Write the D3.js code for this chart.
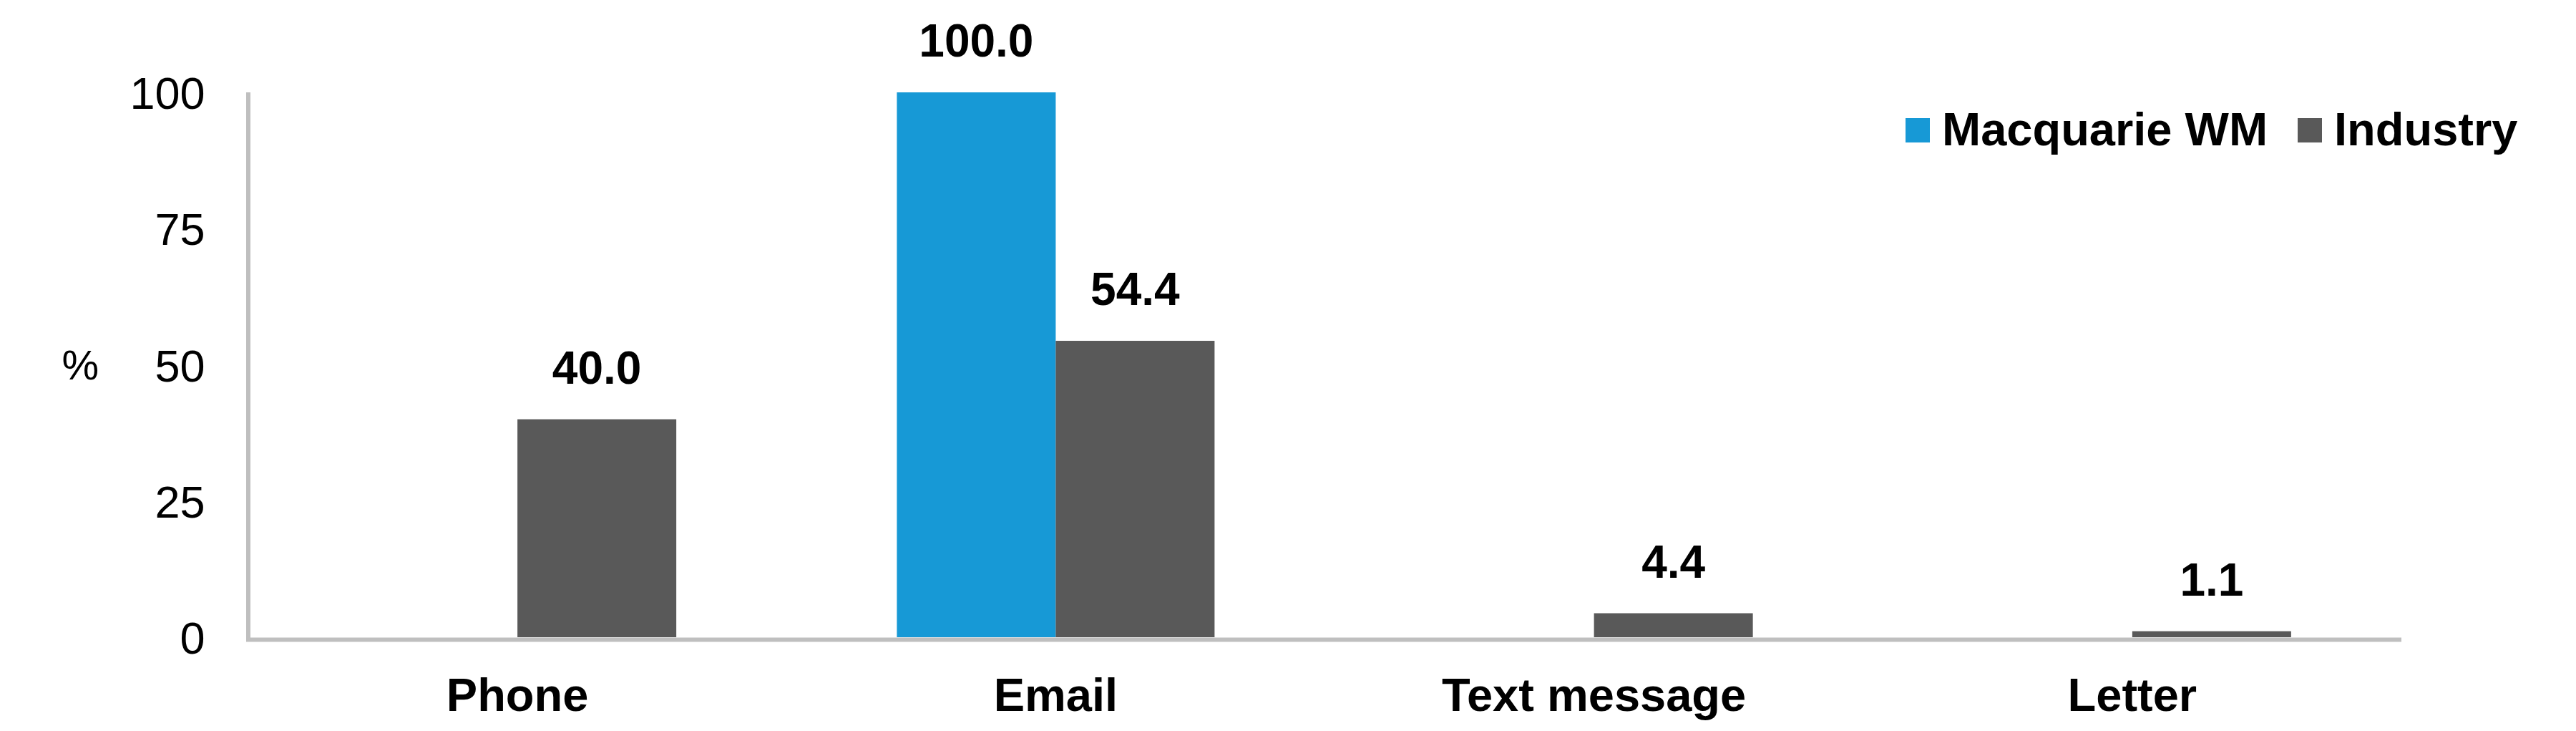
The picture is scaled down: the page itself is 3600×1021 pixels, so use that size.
<!DOCTYPE html>
<html>
<head>
<meta charset="utf-8">
<script src="https://cdn.jsdelivr.net/npm/d3@7"></script>
<style>
  html, body { margin: 0; padding: 0; background: #ffffff; }
  svg { display: block; }
  text { font-family: "Liberation Sans", Arial, Helvetica, sans-serif; fill: #000; }
</style>
</head>
<body>
<svg id="chart" width="3600" height="1021"></svg>
<script>
// ---- data ----
const categories = ["Phone", "Email", "Text message", "Letter"];
const seriesNames = ["Macquarie WM", "Industry"];
const macquarieValues = [null, 100.0, null, null];
const industryValues = [40.0, 54.4, 4.4, 1.1];
const yTicks = [0, 25, 50, 75, 100];
const yAxisTitle = "%";
const seriesColors = ["#1799D6", "#595959"];

// ---- layout ----
const W = 3600, H = 1021;
const plot = { left: 347, right: 3356, top: 129, bottom: 890 };

const svg = d3.select("#chart");

const x0 = d3.scaleBand().domain(categories).range([plot.left, plot.right]).paddingInner(0).paddingOuter(0);
const groupFrac = 444 / 752.25;
const x1 = d3.scaleBand().domain(seriesNames)
  .range([0, x0.bandwidth() * groupFrac]).padding(0);
const groupOffset = (x0.bandwidth() - x0.bandwidth() * groupFrac) / 2;

const y = d3.scaleLinear().domain([0, 100]).range([plot.bottom, plot.top]);

const series = [
  { name: seriesNames[0], values: macquarieValues, color: seriesColors[0] },
  { name: seriesNames[1], values: industryValues, color: seriesColors[1] }
];

// bars
const barData = [];
series.forEach(s => {
  s.values.forEach((v, i) => {
    if (v !== null && v !== undefined) barData.push({ cat: categories[i], series: s.name, value: v, color: s.color });
  });
});

svg.append("g").selectAll("rect").data(barData).join("rect")
  .attr("x", d => x0(d.cat) + groupOffset + x1(d.series))
  .attr("y", d => y(d.value))
  .attr("width", x1.bandwidth())
  .attr("height", d => y(0) - y(d.value))
  .attr("fill", d => d.color);

// data labels
svg.append("g").selectAll("text").data(barData).join("text")
  .attr("x", d => x0(d.cat) + groupOffset + x1(d.series) + x1.bandwidth() / 2)
  .attr("y", d => y(d.value) - 50)
  .attr("text-anchor", "middle")
  .style("font-size", "64px")
  .style("font-weight", "bold")
  .text(d => d.value.toFixed(1));

// y axis
const yAxis = svg.append("g")
  .attr("transform", `translate(${plot.left - 0.5},0)`)
  .call(d3.axisLeft(y).tickValues(yTicks).tickSize(0).tickSizeOuter(0).tickPadding(60));
yAxis.select(".domain").attr("stroke", "#BFBFBF").attr("stroke-width", 6)
  .attr("d", `M0.5,${plot.top}V${plot.bottom + 6}`);
yAxis.selectAll(".tick text")
  .style("font-size", "63px")
  .style("font-family", "'Liberation Sans', Arial, sans-serif")
  .attr("fill", "#000")
  .attr("dy", "0.36em");

// x axis
const xAxis = svg.append("g")
  .attr("transform", `translate(0,${plot.bottom + 3})`)
  .call(d3.axisBottom(x0).tickSize(0).tickSizeOuter(0));
xAxis.select(".domain").attr("stroke", "#BFBFBF").attr("stroke-width", 6)
  .attr("d", `M${plot.left - 3},0.5H${plot.right}`);
xAxis.selectAll(".tick text")
  .style("font-size", "65px")
  .style("font-weight", "bold")
  .style("font-family", "'Liberation Sans', Arial, sans-serif")
  .attr("fill", "#000")
  .attr("y", 100)
  .attr("dy", 0);

// y axis title
svg.append("text")
  .attr("x", 138)
  .attr("y", y(50))
  .attr("dy", "0.36em")
  .attr("text-anchor", "end")
  .style("font-size", "58px")
  .text(yAxisTitle);

// legend
const legendItems = [
  { name: seriesNames[0], color: seriesColors[0], x: 2663 },
  { name: seriesNames[1], color: seriesColors[1], x: 3211 }
];
const lg = svg.append("g");
legendItems.forEach(it => {
  lg.append("rect").attr("x", it.x).attr("y", 165).attr("width", 34).attr("height", 34).attr("fill", it.color);
  lg.append("text").attr("x", it.x + 51).attr("y", 203)
    .style("font-size", "65px").style("font-weight", "bold").text(it.name);
});
</script>
</body>
</html>
